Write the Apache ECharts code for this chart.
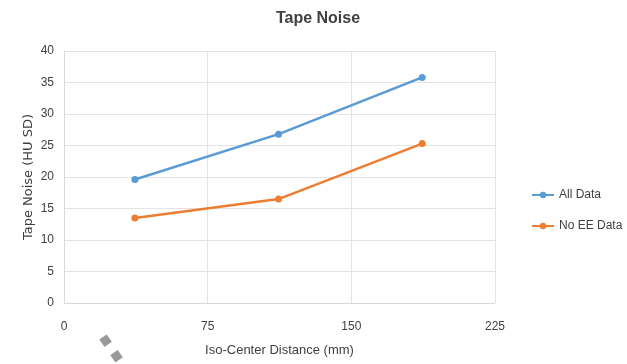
<!DOCTYPE html>
<html><head><meta charset="utf-8">
<script src="https://cdn.jsdelivr.net/npm/echarts@6/dist/echarts.min.js"></script>
<style>html,body{margin:0;padding:0;background:#fff}#c{width:627px;height:364px}</style>
</head><body><div id="c"></div>
<script>
const xValues = [37, 112, 187];
const allData = [19.6, 26.8, 35.8];
const noEEData = [13.5, 16.5, 25.3];
const seriesNames = ['All Data', 'No EE Data'];
const xTicks = [0, 75, 150, 225];
const yTicks = [0, 5, 10, 15, 20, 25, 30, 35, 40];

const font = '"Liberation Sans Narrow","Liberation Sans",sans-serif';
const chart = echarts.init(document.getElementById('c'));
const pair = (xs, ys) => xs.map((x, i) => [x, ys[i]]);
chart.setOption({
  animation: false,
  title: {text: 'Tape Noise', left: 313, top: 6, textAlign: 'center',
    textStyle: {fontFamily: font, fontSize: 16, fontWeight: 'bold', color: '#404040'}},
  grid: {left: 64, right: 132, top: 51, bottom: 61},
  legend: {orient: 'vertical', left: 526, top: 184, itemGap: 19, itemWidth: 22, itemHeight: 8,
    textStyle: {fontFamily: font, fontSize: 12, color: '#404040'}},
  graphic: [{type: 'line', shape: {x1: 103, y1: 337, x2: 122, y2: 364},
    style: {stroke: '#999', lineWidth: 9, lineDash: [9, 10]}}],
  xAxis: {type: 'value', min: 0, max: 225, interval: 75,
    name: 'Iso-Center Distance (mm)', nameLocation: 'middle', nameGap: 41,
    nameTextStyle: {fontFamily: font, fontSize: 13, color: '#404040'},
    axisLine: {show: true, lineStyle: {color: '#d9d9d9'}}, axisTick: {show: false},
    axisLabel: {fontFamily: font, fontSize: 12, color: '#404040', margin: 18},
    splitLine: {show: true, lineStyle: {color: '#e4e4e4'}}},
  yAxis: {type: 'value', min: 0, max: 40, interval: 5,
    name: 'Tape Noise (HU SD)', nameLocation: 'middle', nameGap: 29, nameMoveOverlap: false,
    nameTextStyle: {fontFamily: '"DejaVu Sans",sans-serif', fontSize: 13, color: '#404040'},
    axisLine: {show: true, lineStyle: {color: '#d9d9d9'}}, axisTick: {show: false},
    axisLabel: {fontFamily: font, fontSize: 12, color: '#404040', margin: 10},
    splitLine: {show: true, lineStyle: {color: '#e4e4e4'}}},
  series: [
    {name: seriesNames[0], type: 'line', data: pair(xValues, allData), color: '#5b9bd5',
      symbol: 'circle', symbolSize: 7, lineStyle: {width: 2.5}},
    {name: seriesNames[1], type: 'line', data: pair(xValues, noEEData), color: '#ed7d31',
      symbol: 'circle', symbolSize: 7, lineStyle: {width: 2.5}}
  ]
});
</script></body></html>
